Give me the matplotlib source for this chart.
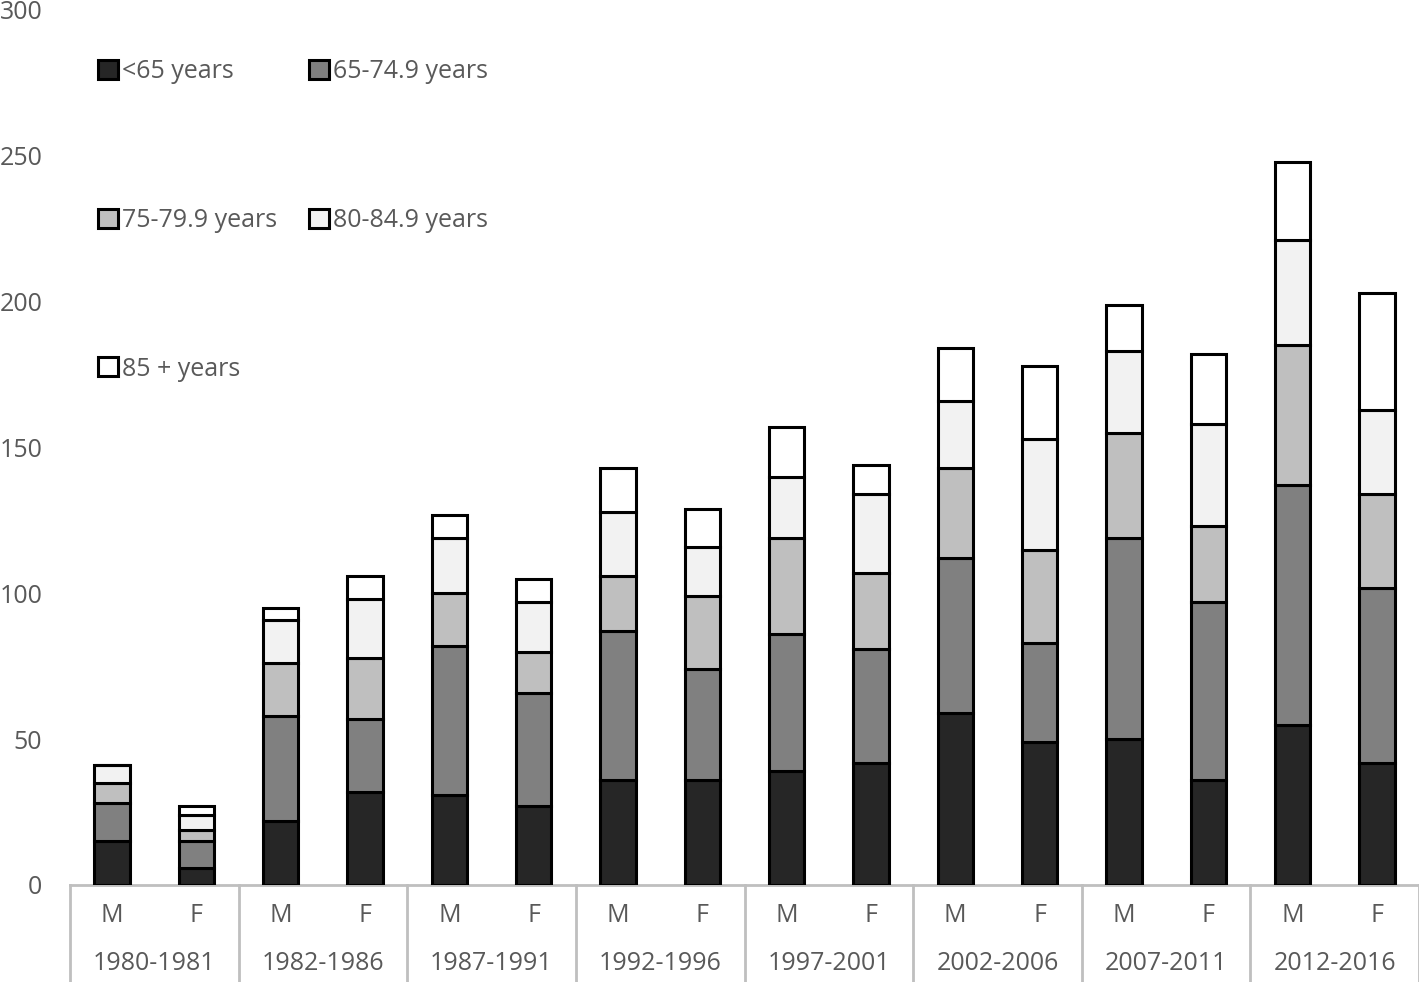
import matplotlib
matplotlib.use("Agg")
import matplotlib.pyplot as plt
import numpy as np
from matplotlib.patches import Patch

periods = ["1980-1981", "1982-1986", "1987-1991", "1992-1996",
           "1997-2001", "2002-2006", "2007-2011", "2012-2016"]
sexes = ["M", "F"]
series_labels = ["<65 years", "65-74.9 years", "75-79.9 years",
                 "80-84.9 years", "85 + years"]
under65 = [15, 6, 22, 32, 31, 27, 36, 36, 39, 42, 59, 49, 50, 36, 55, 42]
y65_74 = [13, 9, 36, 25, 51, 39, 51, 38, 47, 39, 53, 34, 69, 61, 82, 60]
y75_79 = [7, 4, 18, 21, 18, 14, 19, 25, 33, 26, 31, 32, 36, 26, 48, 32]
y80_84 = [6, 5, 15, 20, 19, 17, 22, 17, 21, 27, 23, 38, 28, 35, 36, 29]
y85plus = [0, 3, 4, 8, 8, 8, 15, 13, 17, 10, 18, 25, 16, 24, 27, 40]
yticks = [0, 50, 100, 150, 200, 250, 300]

colors = ["#262626", "#808080", "#BFBFBF", "#F2F2F2", "#FFFFFF"]
txt = "#595959"
font = "Open Sans"
fs = 18

fig = plt.figure(figsize=(14.19, 9.82), dpi=100)
ax = fig.add_axes([70/1419, 1 - 885/982, 1 - 70/1419, (885 - 10)/982])

series = [under65, y65_74, y75_79, y80_84, y85plus]
x = np.arange(len(under65))
bottom = np.zeros(len(x))
handles = []
for vals, c, lab in zip(series, colors, series_labels):
    v = np.array(vals, dtype=float)
    ax.bar(x, v, width=0.42, bottom=bottom, color=c, edgecolor="black",
           linewidth=2.2, zorder=3)
    bottom += v
    handles.append(Patch(facecolor=c, edgecolor="black", linewidth=2.2, label=lab))

ax.set_xlim(-0.5, len(x) - 0.5)
ax.set_ylim(0, 300)
ax.set_yticks(yticks)
ax.set_yticklabels([str(t) for t in yticks], fontsize=fs, color=txt, family=font)
ax.tick_params(axis="y", length=0, pad=20)
ax.set_xticks([])
for s in ["left", "right", "top"]:
    ax.spines[s].set_visible(False)
ax.spines["bottom"].set_color("#BFBFBF")
ax.spines["bottom"].set_linewidth(2)

trans = ax.get_xaxis_transform()
# second-level category labels
for i in x:
    ax.text(i, -31/875, sexes[i % 2], transform=trans, ha="center", va="center",
            fontsize=fs, color=txt, family=font)
for g, p in enumerate(periods):
    ax.text(2 * g + 0.5, -79/875, p, transform=trans, ha="center", va="center",
            fontsize=fs, color=txt, family=font)
for b in np.arange(-0.5, len(x), 2.0):
    ax.plot([b, b], [0, -97/875], transform=trans, color="#BFBFBF", lw=2,
            clip_on=False, zorder=1)

order = [0, 2, 4, 1, 3]
leg = fig.legend([handles[i] for i in order], [series_labels[i] for i in order],
                 ncol=2, loc="upper left", bbox_to_anchor=(98/1419, 1 - 59/982),
                 frameon=False, labelspacing=4.95, handlelength=0.8,
                 handleheight=0.8, handletextpad=0.18, columnspacing=1.25,
                 borderpad=0, borderaxespad=0, prop={"family": font, "size": fs})
for t in leg.get_texts():
    t.set_color(txt)

fig.savefig("out.png", dpi=100)
